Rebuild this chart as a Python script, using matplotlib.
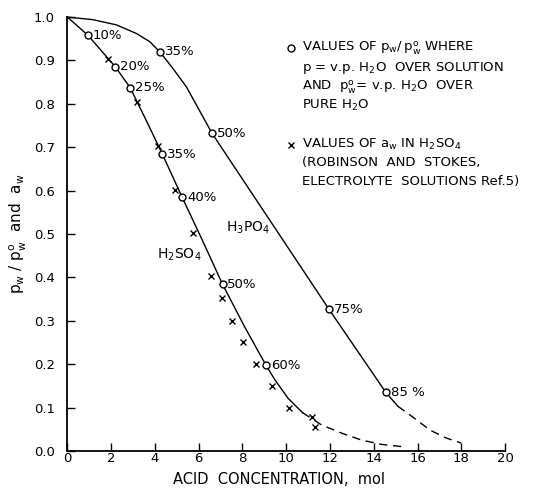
import matplotlib
matplotlib.use('Agg')
import matplotlib.pyplot as plt

plt.rcParams['font.family'] = ['DejaVu Sans']
plt.rcParams['mathtext.default'] = 'regular'
plt.rcParams['mathtext.fontset'] = 'dejavusans'

# open circles: p_w / p_w0 measured, acid concentration in mol
h2so4_x = [0.94, 2.18, 2.87, 4.34, 5.24, 7.09, 9.07]
h2so4_y = [0.958, 0.886, 0.837, 0.684, 0.585, 0.384, 0.198]
h2so4_pct = ['10%', '20%', '25%', '35%', '40%', '50%', '60%']

h3po4_x = [4.22, 6.61, 11.96, 14.55]
h3po4_y = [0.920, 0.732, 0.326, 0.135]
h3po4_pct = ['35%', '50%', '75%', '85 %']

# crosses: a_w in H2SO4 (Robinson and Stokes)
aw_x = [1.86, 3.18, 4.14, 4.92, 5.72, 6.58, 7.07, 7.54, 8.03, 8.62, 9.36, 10.13, 11.16, 11.31]
aw_y = [0.903, 0.805, 0.703, 0.601, 0.503, 0.403, 0.352, 0.300, 0.250, 0.201, 0.150, 0.100, 0.079, 0.054]

# hand drawn curves (solid part, then dashed part)
h2so4_curve_x = [0, 0.94, 2.18, 2.87, 3.6, 4.34, 5.24, 6.2, 7.09, 8.1, 9.07, 9.48, 10.09, 10.75]
h2so4_curve_y = [1.0, 0.958, 0.886, 0.837, 0.762, 0.684, 0.585, 0.482, 0.384, 0.286, 0.198, 0.164, 0.121, 0.088]
h2so4_dash_x = [10.75, 11.61, 12.53, 13.44, 14.36, 15.27]
h2so4_dash_y = [0.088, 0.060, 0.041, 0.025, 0.015, 0.010]

h3po4_curve_x = [0, 1.17, 2.24, 3.16, 3.77, 4.22, 4.8, 5.44, 6.61, 11.96, 14.55, 15.1]
h3po4_curve_y = [1.0, 0.994, 0.982, 0.962, 0.943, 0.920, 0.883, 0.839, 0.732, 0.326, 0.135, 0.103]
h3po4_dash_x = [15.1, 15.73, 16.57, 17.3, 18.0]
h3po4_dash_y = [0.103, 0.080, 0.048, 0.030, 0.018]

xticks = list(range(0, 21, 2))
yticks = [i / 10 for i in range(11)]

fig = plt.figure(figsize=(5.35, 4.88), dpi=100)
ax = fig.add_axes([0.126, 0.076, 0.818, 0.889])

lw = 1.0
ax.plot(h2so4_curve_x, h2so4_curve_y, color='black', lw=lw, clip_on=False)
ax.plot(h2so4_dash_x, h2so4_dash_y, color='black', lw=lw, ls=(0, (6, 4)), clip_on=False)
ax.plot(h3po4_curve_x, h3po4_curve_y, color='black', lw=lw, clip_on=False)
ax.plot(h3po4_dash_x, h3po4_dash_y, color='black', lw=lw, ls=(0, (6, 4)), clip_on=False)

circ = dict(ls='none', marker='o', ms=5, mfc='white', mec='black', mew=1.0, zorder=3)
cross = dict(ls='none', marker='x', ms=4, mec='black', mew=1.0, zorder=3)
ax.plot(h2so4_x, h2so4_y, **circ)
ax.plot(h3po4_x, h3po4_y, **circ)
ax.plot(aw_x, aw_y, **cross)

for x, y, t in zip(h2so4_x + h3po4_x, h2so4_y + h3po4_y, h2so4_pct + h3po4_pct):
    ax.annotate(t, (x, y), xytext=(3.5, 0), textcoords='offset points',
                va='center', ha='left', fontsize=9.5)

ax.text(5.1, 0.452, 'H$_2$SO$_4$', fontsize=10, ha='center', va='center')
ax.text(8.26, 0.514, 'H$_3$PO$_4$', fontsize=10, ha='center', va='center')

# legend block
ax.plot([10.24], [0.928], **circ)
lines1 = ['VALUES OF $p_w/\\,p_w^o$ WHERE',
          '$p$ = v.p. H$_2$O  OVER SOLUTION',
          'AND  $p_w^o$= v.p. H$_2$O  OVER',
          'PURE H$_2$O']
ys1 = [0.928, 0.882, 0.839, 0.797]
for t, y in zip(lines1, ys1):
    ax.text(10.72, y, t, fontsize=9.5, va='center', ha='left')
ax.plot([10.24], [0.705], **cross)
lines2 = ['VALUES OF $a_w$ IN H$_2$SO$_4$',
          '(ROBINSON  AND  STOKES,',
          'ELECTROLYTE  SOLUTIONS Ref.5)']
ys2 = [0.707, 0.664, 0.620]
for t, y in zip(lines2, ys2):
    ax.text(10.72, y, t, fontsize=9.5, va='center', ha='left')

ax.set_xlim(0, 20)
ax.set_ylim(0, 1.0)
ax.set_xticks(xticks)
ax.set_xticklabels([str(v) for v in xticks])
ax.set_yticks(yticks)
ax.set_yticklabels(['%.1f' % v for v in yticks])
ax.tick_params(axis='both', direction='in', length=6, width=1.0, labelsize=9.5)
ax.tick_params(axis='y', pad=9)
ax.tick_params(axis='x', pad=1)

ax.spines['top'].set_visible(False)
ax.spines['right'].set_visible(False)
ax.spines['left'].set_linewidth(1.3)
ax.spines['bottom'].set_linewidth(1.3)

ax.set_xlabel('ACID  CONCENTRATION,  mol', fontsize=10.5)
ax.xaxis.set_label_coords(0.483, -0.048)
ax.set_ylabel('$p_w$ / $p_w^o$  and  $a_w$', fontsize=11)
ax.yaxis.set_label_coords(-0.088, 0.5)

fig.savefig('out.png', dpi=100, facecolor='white')
